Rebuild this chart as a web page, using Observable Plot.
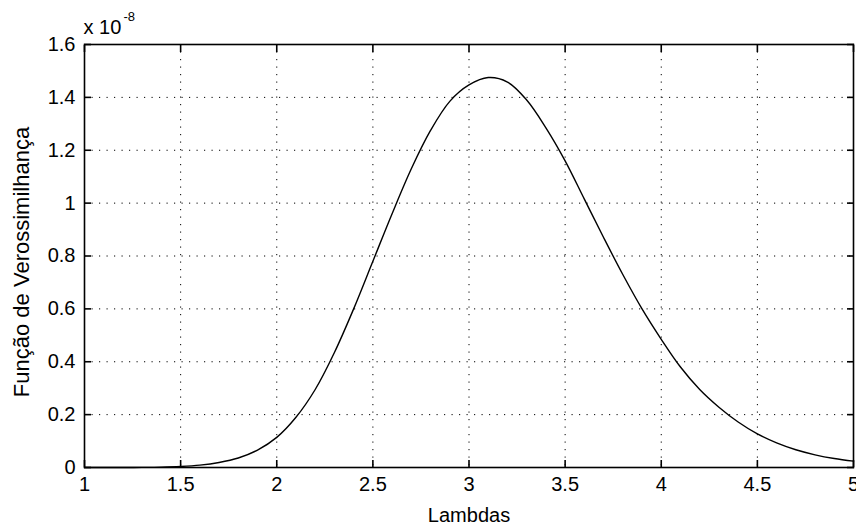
<!DOCTYPE html>
<html>
<head>
<meta charset="utf-8">
<script src="https://cdn.jsdelivr.net/npm/d3@7"></script>
<script src="https://cdn.jsdelivr.net/npm/@observablehq/plot@0.6"></script>
<style>
  html, body { margin: 0; padding: 0; background: #fff; }
  #chart { width: 856px; height: 528px; }
</style>
</head>
<body>
<div id="chart"></div>
<script>
// Values (likelihood in units of 1e-8)
const lambdas = [1.0, 1.1, 1.2, 1.3, 1.4, 1.5, 1.6, 1.7, 1.8, 1.9,
                 2.0, 2.1, 2.2, 2.3, 2.4, 2.5, 2.6, 2.7, 2.8, 2.9,
                 3.0, 3.1, 3.2, 3.3, 3.4, 3.5, 3.6, 3.7, 3.8, 3.9,
                 4.0, 4.1, 4.2, 4.3, 4.4, 4.5, 4.6, 4.7, 4.8, 4.9, 5.0];
const likelihood = [0.0000, 0.0000, 0.0001, 0.0005, 0.0015, 0.004, 0.009, 0.019, 0.036, 0.066,
                    0.114, 0.190, 0.295, 0.435, 0.600, 0.780, 0.960, 1.130, 1.275, 1.385,
                    1.447, 1.475, 1.458, 1.390, 1.285, 1.160, 1.015, 0.870, 0.730, 0.600,
                    0.485, 0.380, 0.295, 0.228, 0.172, 0.127, 0.093, 0.067, 0.048, 0.034, 0.024];
const xTicks = [1, 1.5, 2, 2.5, 3, 3.5, 4, 4.5, 5];
const yTicks = [0, 0.2, 0.4, 0.6, 0.8, 1, 1.2, 1.4, 1.6];
const xLabel = "Lambdas";
const yLabel = "Função de Verossimilhança";
const exponentBase = "x 10";
const exponentPower = "-8";

const data = lambdas.map((l, i) => ({lambda: l, L: likelihood[i]}));
const fmt = d => String(d);
const grid = {stroke: "black", strokeOpacity: 1, strokeWidth: 1, strokeDasharray: "1.2,6.3"};

const chart = Plot.plot({
  width: 856,
  height: 528,
  marginLeft: 84,
  marginRight: 3,
  marginTop: 44,
  marginBottom: 61,
  style: {fontFamily: "'Liberation Sans', Arial, sans-serif", fontSize: "20px", color: "#000", background: "#fff"},
  x: {domain: [1, 5], ticks: xTicks},
  y: {domain: [0, 1.6], ticks: yTicks},
  marks: [
    Plot.gridX(xTicks, grid),
    Plot.gridY(yTicks, grid),
    Plot.line(data, {x: "lambda", y: "L", curve: "catmull-rom", stroke: "black", strokeWidth: 1.4}),
    Plot.frame({stroke: "black", strokeWidth: 1.6}),
    Plot.axisX(xTicks, {anchor: "bottom", tickSize: -7, tickPadding: 16, tickFormat: fmt, label: null, stroke: "black", strokeWidth: 1.6}),
    Plot.axisX(xTicks, {anchor: "top", tickSize: -7, tickFormat: () => "", label: null, stroke: "black", strokeWidth: 1.6}),
    Plot.axisY(yTicks, {anchor: "left", tickSize: -7, tickPadding: 16, tickFormat: fmt, label: null, stroke: "black", strokeWidth: 1.6}),
    Plot.axisY(yTicks, {anchor: "right", tickSize: -7, tickFormat: () => "", label: null, stroke: "black", strokeWidth: 1.6}),
    Plot.text([xLabel], {frameAnchor: "bottom", dy: 54, lineAnchor: "bottom", fontSize: 20, fill: "black"}),
    Plot.text([yLabel], {frameAnchor: "left", textAnchor: "middle", dx: -56, dy: 6, rotate: -90, lineAnchor: "bottom", fontSize: 22, fill: "black"}),
    Plot.text([exponentBase], {frameAnchor: "top-left", textAnchor: "start", lineAnchor: "bottom", dx: -1, dy: -11, fontSize: 20, fill: "black"}),
    Plot.text([exponentPower], {frameAnchor: "top-left", textAnchor: "start", lineAnchor: "bottom", dx: 39, dy: -24, fontSize: 13, fill: "black"})
  ]
});
document.getElementById("chart").appendChild(chart);
</script>
</body>
</html>
